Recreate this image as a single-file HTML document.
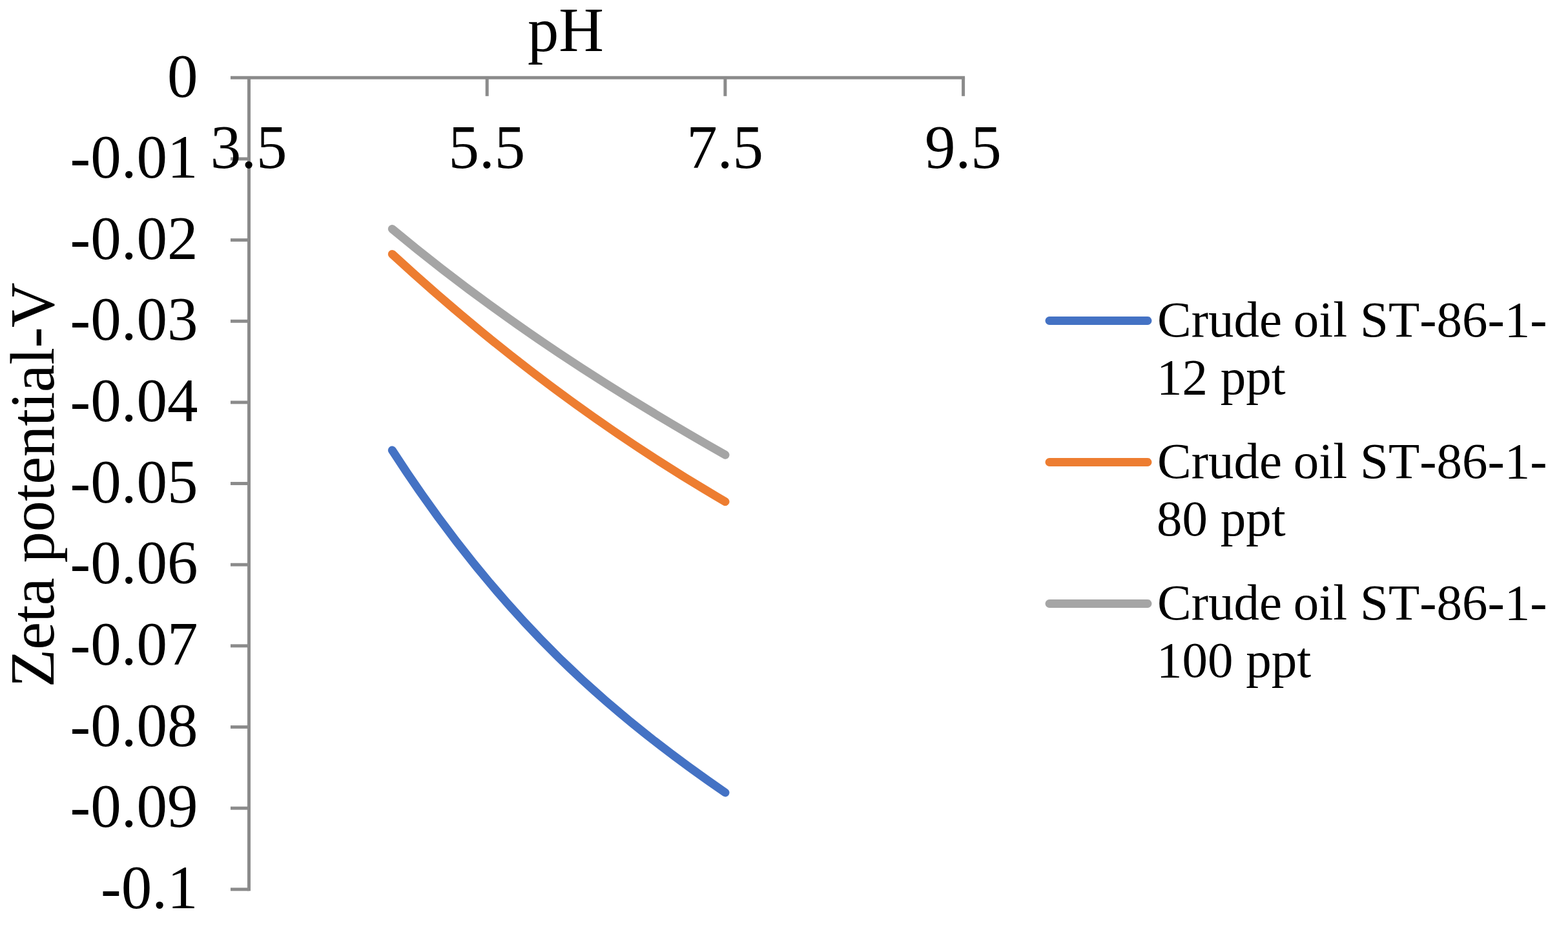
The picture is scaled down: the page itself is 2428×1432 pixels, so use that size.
<!DOCTYPE html>
<html lang="en"><head><meta charset="utf-8"><title>Zeta potential vs pH</title>
<style>html,body{margin:0;padding:0;background:#fff}body{width:2428px;height:1432px;overflow:hidden}svg{display:block;position:absolute;left:0;top:0}text{font-family:"Liberation Serif","Times New Roman",serif;fill:#000;font-kerning:none;white-space:pre}</style></head><body>
<svg width="2428" height="1432" viewBox="0 0 2428 1432">
<rect width="2428" height="1432" fill="#ffffff"/>
<g stroke="#8B8B8B" stroke-width="5.0" fill="none" stroke-linecap="butt">
<path d="M357.00 120.30H1494.10"/>
<path d="M385.50 120.30V1379.30"/>
<path d="M754.20 120.30V148.80"/>
<path d="M1122.90 120.30V148.80"/>
<path d="M1491.60 120.30V148.80"/>
<path d="M357.00 245.95H385.50"/>
<path d="M357.00 371.60H385.50"/>
<path d="M357.00 497.25H385.50"/>
<path d="M357.00 622.90H385.50"/>
<path d="M357.00 748.55H385.50"/>
<path d="M357.00 874.20H385.50"/>
<path d="M357.00 999.85H385.50"/>
<path d="M357.00 1125.50H385.50"/>
<path d="M357.00 1251.15H385.50"/>
<path d="M357.00 1376.80H385.50"/>
</g>
<g fill="none" stroke-width="13" stroke-linecap="round" stroke-linejoin="round">
<path stroke="#4472C4" d="M607.3 697C779.2 963.5 951.1 1109.4 1123 1227"/>
<path stroke="#ED7D31" d="M607.3 393.4C779.2 551.8 951.1 676.4 1123 776.6"/>
<path stroke="#A5A5A5" d="M607.3 354.4C779.2 497.5 951.1 606.6 1123 704.2"/>
</g>
<g font-size="95" text-anchor="end">
<text x="306.5" y="149.50">0</text>
<text x="306.5" y="275.15">-0.01</text>
<text x="306.5" y="400.80">-0.02</text>
<text x="306.5" y="526.45">-0.03</text>
<text x="306.5" y="652.10">-0.04</text>
<text x="306.5" y="777.75">-0.05</text>
<text x="306.5" y="903.40">-0.06</text>
<text x="306.5" y="1029.05">-0.07</text>
<text x="306.5" y="1154.70">-0.08</text>
<text x="306.5" y="1280.35">-0.09</text>
<text x="306.5" y="1406.00">-0.1</text>
</g>
<g font-size="95" text-anchor="middle">
<text x="385.20" y="260.4">3.5</text>
<text x="753.90" y="260.4">5.5</text>
<text x="1122.60" y="260.4">7.5</text>
<text x="1491.30" y="260.4">9.5</text>
</g>
<text font-size="96.5" text-anchor="middle" x="876" y="79.3">pH</text>
<text font-size="96.5" text-anchor="middle" letter-spacing="-0.55" transform="translate(83.3 751) rotate(-90)">Zeta potential-V</text>
<path d="M1625 496.50H1777" stroke="#4472C4" stroke-width="13" stroke-linecap="round" fill="none"/>
<text font-size="79" x="1792" y="521.00"><tspan>Crude</tspan><tspan dx="-2"> oil ST-86-1-</tspan></text>
<text font-size="79" x="1791" y="610.20">12 ppt</text>
<path d="M1625 715.50H1777" stroke="#ED7D31" stroke-width="13" stroke-linecap="round" fill="none"/>
<text font-size="79" x="1792" y="740.00"><tspan>Crude</tspan><tspan dx="-2"> oil ST-86-1-</tspan></text>
<text font-size="79" x="1791" y="829.20">80 ppt</text>
<path d="M1625 934.50H1777" stroke="#A5A5A5" stroke-width="13" stroke-linecap="round" fill="none"/>
<text font-size="79" x="1792" y="959.00"><tspan>Crude</tspan><tspan dx="-2"> oil ST-86-1-</tspan></text>
<text font-size="79" x="1791" y="1048.20">100 ppt</text>
</svg></body></html>
